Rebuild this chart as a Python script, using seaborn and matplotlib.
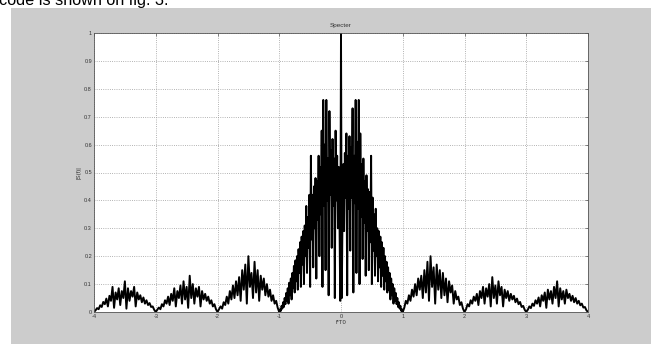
import numpy as np
import pandas as pd
import matplotlib
matplotlib.use("Agg")
import matplotlib.pyplot as plt
import seaborn as sns
from matplotlib.patches import Rectangle

# spectrum values, one list per lobe (both ends included)
lobe_m4_m3 = [0.000, 0.006, 0.014, 0.010, 0.024, 0.018, 0.036, 0.028, 0.048, 0.020,
              0.058, 0.040, 0.090, 0.015, 0.070, 0.045, 0.085, 0.025, 0.075, 0.050,
              0.110, 0.012, 0.085, 0.040, 0.075, 0.055, 0.090, 0.020, 0.070, 0.045,
              0.060, 0.035, 0.052, 0.030, 0.042, 0.025, 0.032, 0.018, 0.020, 0.008, 0.000]
lobe_m3_m2 = [0.000, 0.008, 0.016, 0.010, 0.028, 0.020, 0.042, 0.030, 0.055, 0.025,
              0.065, 0.040, 0.085, 0.020, 0.075, 0.050, 0.095, 0.030, 0.110, 0.045,
              0.090, 0.015, 0.130, 0.050, 0.100, 0.030, 0.085, 0.055, 0.090, 0.020,
              0.075, 0.045, 0.065, 0.040, 0.055, 0.030, 0.042, 0.020, 0.028, 0.010, 0.000]
lobe_m2_m1 = [0.000, 0.010, 0.020, 0.012, 0.035, 0.025, 0.055, 0.030, 0.075, 0.045,
              0.095, 0.050, 0.110, 0.060, 0.125, 0.040, 0.150, 0.080, 0.170, 0.030,
              0.200, 0.090, 0.140, 0.050, 0.180, 0.070, 0.150, 0.040, 0.130, 0.080,
              0.120, 0.060, 0.100, 0.055, 0.080, 0.040, 0.060, 0.030, 0.040, 0.015, 0.000]
main_lobe = [0.000, 0.010, 0.004, 0.022, 0.012, 0.035, 0.018, 0.050, 0.028, 0.068,
             0.040, 0.085, 0.030, 0.105, 0.060, 0.120, 0.045, 0.140, 0.085, 0.165,
             0.070, 0.185, 0.110, 0.200, 0.080, 0.225, 0.140, 0.250, 0.090, 0.270,
             0.170, 0.290, 0.100, 0.310, 0.200, 0.380, 0.140, 0.340, 0.230, 0.420,
             0.090, 0.560, 0.260, 0.420, 0.160, 0.450, 0.300, 0.480, 0.120, 0.470,
             0.330, 0.560, 0.200, 0.520, 0.350, 0.650, 0.090, 0.760, 0.380, 0.600,
             0.150, 0.760, 0.400, 0.550, 0.060, 0.720, 0.420, 0.580, 0.230, 0.620,
             0.380, 0.550, 0.050, 0.650, 0.400, 0.560, 0.300, 0.520, 0.350, 0.040,
             1.000,
             0.050, 0.360, 0.530, 0.290, 0.570, 0.410, 0.640, 0.060, 0.560, 0.370,
             0.630, 0.220, 0.590, 0.410, 0.730, 0.070, 0.560, 0.390, 0.760, 0.140,
             0.610, 0.370, 0.760, 0.100, 0.640, 0.340, 0.530, 0.190, 0.550, 0.320,
             0.470, 0.130, 0.490, 0.290, 0.440, 0.150, 0.430, 0.250, 0.560, 0.100,
             0.410, 0.220, 0.350, 0.130, 0.370, 0.200, 0.300, 0.110, 0.290, 0.160,
             0.270, 0.090, 0.250, 0.130, 0.230, 0.080, 0.200, 0.110, 0.180, 0.070,
             0.160, 0.080, 0.140, 0.045, 0.120, 0.060, 0.100, 0.030, 0.085, 0.040,
             0.068, 0.028, 0.050, 0.018, 0.035, 0.012, 0.022, 0.004, 0.010, 0.000]
lobe_p1_p2 = [0.000, 0.015, 0.040, 0.030, 0.060, 0.040, 0.080, 0.055, 0.100, 0.060,
              0.120, 0.080, 0.130, 0.050, 0.150, 0.070, 0.180, 0.040, 0.200, 0.090,
              0.160, 0.030, 0.170, 0.080, 0.150, 0.050, 0.140, 0.060, 0.120, 0.035,
              0.110, 0.070, 0.095, 0.030, 0.075, 0.045, 0.055, 0.025, 0.035, 0.012, 0.000]
lobe_p2_p3 = [0.000, 0.010, 0.028, 0.020, 0.042, 0.030, 0.055, 0.040, 0.065, 0.025,
              0.075, 0.050, 0.090, 0.030, 0.085, 0.055, 0.100, 0.020, 0.125, 0.050,
              0.095, 0.030, 0.110, 0.060, 0.090, 0.020, 0.080, 0.050, 0.075, 0.040,
              0.065, 0.045, 0.058, 0.035, 0.048, 0.028, 0.036, 0.018, 0.022, 0.008, 0.000]
lobe_p3_p4 = [0.000, 0.008, 0.020, 0.014, 0.030, 0.022, 0.042, 0.030, 0.052, 0.020,
              0.060, 0.040, 0.070, 0.015, 0.080, 0.045, 0.075, 0.030, 0.090, 0.050,
              0.110, 0.020, 0.085, 0.045, 0.075, 0.030, 0.080, 0.050, 0.065, 0.040,
              0.058, 0.035, 0.050, 0.030, 0.040, 0.024, 0.030, 0.016, 0.018, 0.006, 0.000]

lobe_edges = [(-4, -3), (-3, -2), (-2, -1), (-1, 1), (1, 2), (2, 3), (3, 4)]
lobes = [lobe_m4_m3, lobe_m3_m2, lobe_m2_m1, main_lobe, lobe_p1_p2, lobe_p2_p3, lobe_p3_p4]

x_ticks = [-4, -3, -2, -1, 0, 1, 2, 3, 4]
y_ticks = [0, 0.1, 0.2, 0.3, 0.4, 0.5, 0.6, 0.7, 0.8, 0.9, 1]
y_ticklabels = ['0', '0.1', '0.2', '0.3', '0.4', '0.5', '0.6', '0.7', '0.8', '0.9', '1']

# sample positions of each lobe
parts = []
for (a, b), vals in zip(lobe_edges, lobes):
    f = np.linspace(a, b, len(vals))
    parts.append(pd.DataFrame({'f': f[:-1], 'S': vals[:-1]}))
parts.append(pd.DataFrame({'f': [4.0], 'S': [lobe_p3_p4[-1]]}))
spec = pd.concat(parts, ignore_index=True)

sns.set_style('white')
plt.rcParams['font.family'] = ['Liberation Sans', 'DejaVu Sans']

W, H = 651, 344
fig = plt.figure(figsize=(W / 100, H / 100), dpi=100, facecolor='white')
fig.patches.append(Rectangle((11 / W, 0), 1 - 11 / W, 1 - 8 / H, transform=fig.transFigure,
                             facecolor='#cccccc', edgecolor='none', zorder=-10))
fig.text(-1 / W, 1 - 5 / H, 'code is shown on fig. 3.', fontsize=11.7, va='baseline',
         ha='left', color='black')

ax = fig.add_axes([94 / W, (H - 312) / H, (588 - 94) / W, (312 - 33) / H])
ax.set_facecolor('white')

sns.lineplot(data=spec, x='f', y='S', sort=False, estimator=None, color='black',
             linewidth=1.4, ax=ax)

ax.set_xlim(-4, 4)
ax.set_ylim(0, 1)
ax.set_xticks(x_ticks)
ax.set_xticklabels([str(t) for t in x_ticks])
ax.set_yticks(y_ticks)
ax.set_yticklabels(y_ticklabels)
ax.grid(True, linestyle=':', color='#9a9a9a', linewidth=0.6)
ax.tick_params(direction='in', length=2.5, width=0.5, top=True, right=True,
               labelsize=4.0, labelcolor='#333333', pad=1.5, color='#555555')
for s in ax.spines.values():
    s.set_color('#555555')
    s.set_linewidth(0.6)

ax.set_title('Specter', fontsize=4.6, color='#333333', pad=4)
ax.set_xlabel('f*T0', fontsize=4.2, color='#333333', labelpad=1)
ax.set_ylabel('|S(f)|', fontsize=4.2, color='#333333', labelpad=2)

fig.savefig('out.png', dpi=100, facecolor=fig.get_facecolor())
